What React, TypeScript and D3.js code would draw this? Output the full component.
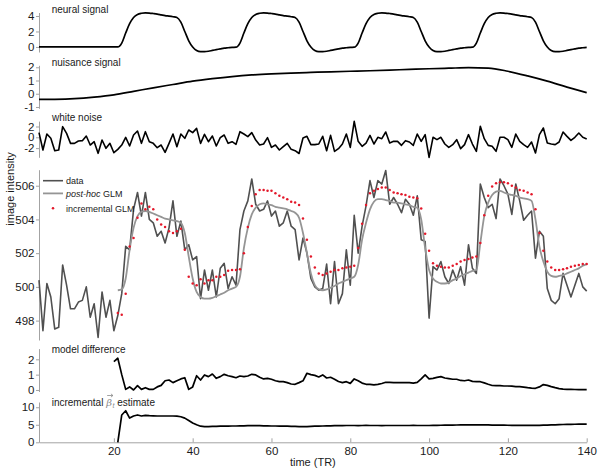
import React, { useEffect, useRef } from 'react';
import * as d3 from 'd3';

const FONT = '"Liberation Sans", Arial, sans-serif';
const AXIS_GREY = '#a3a3a3';

// time points (TR)
const trAll = d3.range(1, 141);
const trModel = d3.range(21, 141);
const trDiff = d3.range(20, 141);
const nuisanceTR = [1, 5, 10, 15, 20, 25, 30, 35, 40, 45, 50, 55, 60, 65, 70, 75, 80, 85, 90, 95, 100, 105, 110, 115, 120, 125, 130, 135, 140];

const xTicks = [20, 40, 60, 80, 100, 120, 140];
const neuralTicks = [0, 2, 4];
const nuisanceTicks = [-1, 0, 1, 2];
const noiseTicks = [-2, 0, 2];
const intensityTicks = [498, 500, 502, 504, 506];
const diffTicks = [0, 1, 2];
const betaTicks = [0, 5, 10];

const neural = [
  0, 0, 0, 0, 0, 0, 0, 0, 0, 0, 0, 0, 0, 0, 0, 0, 0, 0, 0, 0,
  0, 0.5, 1.8, 3.0, 3.8, 4.2, 4.35, 4.4, 4.38, 4.32, 4.25, 4.15, 4.05, 3.98, 3.9, 3.8, 3.2, 2.0, 0.8, 0.0, -0.45, -0.6, -0.6, -0.55, -0.45, -0.35, -0.25, -0.15, -0.1, -0.05,
  -0.03, 0.5, 1.8, 3.0, 3.8, 4.2, 4.35, 4.4, 4.38, 4.32, 4.25, 4.15, 4.05, 3.98, 3.9, 3.8, 3.2, 2.0, 0.8, 0.0, -0.45, -0.6, -0.6, -0.55, -0.45, -0.35, -0.25, -0.15, -0.1, -0.05,
  -0.03, 0.5, 1.8, 3.0, 3.8, 4.2, 4.35, 4.4, 4.38, 4.32, 4.25, 4.15, 4.05, 3.98, 3.9, 3.8, 3.2, 2.0, 0.8, 0.0, -0.45, -0.6, -0.6, -0.55, -0.45, -0.35, -0.25, -0.15, -0.1, -0.05,
  -0.03, 0.5, 1.8, 3.0, 3.8, 4.2, 4.35, 4.4, 4.38, 4.32, 4.25, 4.15, 4.05, 3.98, 3.9, 3.8, 3.2, 2.0, 0.8, 0.0, -0.45, -0.6, -0.6, -0.55, -0.45, -0.35, -0.25, -0.15, -0.1, -0.05,
];

const nuisance = [-0.43, -0.42, -0.37, -0.25, -0.08, 0.18, 0.45, 0.7, 0.95, 1.14, 1.3, 1.42, 1.5, 1.56, 1.61, 1.66, 1.7, 1.74, 1.79, 1.84, 1.89, 1.93, 1.97, 1.94, 1.7, 1.35, 0.95, 0.5, 0.08];

const whiteNoise = [
  0.86, -2.35, 0.61, -0.19, -2.48, -2.35, 1.97, 0.73, -1.12, -1.12,
  -0.69, -0.62, 0.24, -1.43, -0.81, -2.97, -0.5, -2.04, -1.12, -2.85,
  -2.23, -1.43, -0.01, -1.61, 0.43, 1.17, -1.12, 1.04, -0.81, -1.12,
  -1.92, -1.43, -2.78, -1.12, 0.61, -1.73, 0.61, -0.19, 1.35, 0.86,
  1.66, -1.12, 0.55, -0.81, 0.24, -1.61, -0.07, 0.43, -1.12, -0.81,
  -1.3, 1.04, 0.61, 0.12, 0.86, -0.5, -1.43, -1.24, -0.07, -1.86,
  -1.43, -2.35, -1.73, -1.12, -2.23, -2.48, -3.0,
  -0.13, 0.18, -1.36, -1.36, -1.24, 0.18, -2.48, 0.36, -2.6, -2.1,
  -1.24, 0.61, -1.86, 2.96, -0.75, -1.67, -1.06, 0.36, -1.24, 0,
  -0.25, 0.98, -1.06, -0.75, -0.75, -1.49, -0.62, -0.87, -1.49, 0.61,
  -0.75, 0.49, -3.71, 0, -0.44, 0, -1.24, -1.86, -1.36, -0.44,
  -2.1, -1.36, 0.49, -1.24, -2.6, 2.03, -0.25, -1.49, -1.67, -2.6,
  0, 0, -0.44, -1.86, 0.61, -0.75, -1.36, -1.86, -0.87, -2.91,
  0.49, 1.72, -1.06, -1.24, -1.36, -0.87, 0.98, 0.18, -0.56, 0,
  0.8, 0, -0.31,
];

const intensity = [
  500.4, 497.4, 500.2, 499.4, 497.5, 497.6, 501.3, 500.1, 498.7, 498.7,
  499.1, 499.2, 500.0, 498.2, 499.0, 497.0, 499.7, 498.2, 499.2, 497.4,
  498.3, 499.6, 502.4, 502.2, 504.6, 505.6, 504.2, 505.6, 504.0, 503.8,
  503.0, 503.3, 502.6, 503.5, 505.1, 503.0, 503.9, 502.2, 502.5, 501.6,
  501.8, 499.3, 501.0, 499.8, 501.0, 499.4, 501.1, 501.4, 499.9, 500.6,
  500.1, 503.4, 504.5, 505.1, 506.4, 504.9, 504.5, 504.6, 505.1, 504.2,
  504.5, 503.6, 503.8, 504.5, 503.6, 503.4, 501.6, 502.9, 502.0, 500.5,
  500.0, 499.8, 499.9, 501.35, 499.0, 501.5, 499.0, 499.6, 502.2, 500.1,
  504.25, 502.0, 503.6, 504.8, 506.3, 505.3, 506.3, 506.1, 506.9, 504.9,
  505.3, 504.9, 504.4, 505.2, 504.9, 504.25, 505.4, 502.8, 502.7, 498.15,
  501.2, 501.0, 501.5, 500.6, 500.2, 501.0, 500.4, 501.2, 500.1, 502.5,
  501.1, 500.8, 506.1, 505.3, 504.7, 504.9, 504.05, 506.4, 506.0, 505.5,
  504.3, 506.1, 505.1, 503.95, 504.25, 504.5, 501.7, 503.3, 503.0, 499.9,
  499.2, 499.0, 499.3, 500.8, 500.1, 499.4, 500.1, 500.8, 500.0, 499.75,
];

const postHoc = [
  499.8, 499.85, 500.5, 502.2, 503.5, 504.2, 504.45, 504.5, 504.45, 504.35,
  504.25, 504.15, 504.05, 504.0, 503.95, 503.9, 503.8, 503.2, 501.8, 500.5,
  499.7, 499.4, 499.3, 499.3, 499.35, 499.45, 499.55, 499.65, 499.8, 499.9,
  500.0, 500.6, 502.3, 503.5, 504.3, 504.7, 504.9, 504.95, 504.9, 504.85,
  504.75, 504.7, 504.65, 504.6, 504.5, 504.4, 504.1,
  503.2, 502.0, 500.8, 500.1, 499.85, 499.8, 499.85, 499.95, 500.05, 500.2,
  500.3, 500.4, 500.5, 500.6, 501.3, 502.8, 503.8, 504.6, 505.05, 505.2,
  505.2, 505.15, 505.1, 505.0, 505.0, 504.95, 504.9, 504.85, 504.75, 504.7,
  504.0, 502.3, 501.0, 500.5, 500.3, 500.2, 500.2, 500.25, 500.4, 500.5,
  500.65, 500.75, 500.85, 500.95, 501.0, 502.6, 504.2, 505.0, 505.45, 505.65,
  505.7, 505.6, 505.5, 505.45, 505.4, 505.3, 505.25, 505.2, 505.1, 504.0,
  502.4, 501.5, 500.9, 500.65, 500.6, 500.65, 500.7, 500.8, 500.9, 501.0,
  501.1, 501.25, 501.35,
];

const incremental = [
  498.45, 498.35, 499.6, 502.4, 502.9, 504.1, 504.95, 504.6, 504.75, 504.6,
  504.0, 503.7, 503.55, 503.3, 503.2, 503.3, 503.45, 502.2, 500.6, 500.2,
  500.1, 500.45, 500.2, 500.4, 500.4, 500.6, 500.6, 500.7, 500.95, 501.0,
  501.0, 501.05, 502.0, 503.55, 504.8, 505.5, 505.75, 505.75, 505.7, 505.7,
  505.55, 505.4, 505.3, 505.2, 505.05, 505.0, 504.85,
  504.05, 502.8, 501.8, 501.15, 500.8, 500.7, 500.8, 500.9, 501.0, 501.0,
  501.1, 501.15, 501.2, 501.25, 502.3, 503.75, 504.85, 505.55, 505.7, 505.8,
  505.9, 505.9, 505.75, 505.6, 505.55, 505.5, 505.45, 505.35, 505.3, 505.25,
  504.65, 503.15, 502.15, 501.4, 501.25, 501.2, 501.15, 501.15, 501.25, 501.35,
  501.5, 501.6, 501.65, 501.75, 501.8, 502.6, 504.25, 505.4, 505.95, 506.15,
  506.2, 506.2, 506.15, 506.0, 505.9, 505.75, 505.7, 505.6, 505.5, 504.6,
  503.2, 502.15, 501.5, 501.15, 501.0, 501.0, 501.05, 501.1, 501.2, 501.25,
  501.3, 501.35, 501.35,
];

const modelDiff = [
  1.85, 2.07, 1.0, 0.04, 0.2, 0.0, 0.28, 0.04, 0.15, 0.04,
  0.04, 0.2, 0.3, 0.6, 0.65, 0.48, 0.6, 0.72, 0.8, 0.04,
  0.2, 0.93, 0.65, 0.98, 0.87, 1.04, 0.76, 0.87, 1.02, 0.93,
  0.87, 0.8, 0.91, 0.87, 0.91, 1.02, 0.98, 0.83, 0.72, 0.76,
  0.7, 0.6, 0.54, 0.54, 0.48, 0.39, 0.37, 0.48,
  0.6, 1.09, 1.0, 0.95, 0.85, 0.98, 0.78, 0.83, 0.7, 0.55,
  0.48, 0.54, 0.43, 0.72, 0.6, 0.45, 0.37, 0.37, 0.33, 0.36,
  0.42, 0.5, 0.49, 0.48, 0.48, 0.48, 0.48, 0.48, 0.45, 0.5,
  0.72, 0.98, 0.72, 0.76, 0.82, 0.87, 0.78, 0.74, 0.7, 0.7,
  0.62, 0.6, 0.65, 0.56, 0.54, 0.54, 0.46, 0.37, 0.29, 0.28,
  0.28, 0.26, 0.26, 0.25, 0.22, 0.22, 0.19, 0.15, 0.12, 0.11,
  0.2, 0.35, 0.3, 0.22, 0.15, 0.09, 0.05, 0.04, 0.04, 0.03,
  0.02, 0.02, 0.02,
];

const betaEstimate = [
  0, 7.8, 9.0, 6.9, 7.5, 7.8, 7.5, 7.7, 7.6, 7.55,
  7.5, 7.5, 7.5, 7.5, 7.5, 7.45, 7.3, 6.9, 6.2, 5.5,
  5.0, 4.6, 4.5, 4.5, 4.55, 4.55, 4.6, 4.6, 4.6, 4.65,
  4.65, 4.7, 4.7, 4.75, 4.75, 4.75, 4.75, 4.7, 4.7, 4.65,
  4.65, 4.6, 4.6, 4.6, 4.55, 4.55, 4.5, 4.5, 4.5, 4.55,
  4.6, 4.6, 4.65, 4.7, 4.7, 4.75, 4.75, 4.75, 4.8, 4.8,
  4.8, 4.78, 4.8, 4.82, 4.8, 4.8, 4.8, 4.78, 4.8, 4.8,
  4.8, 4.8, 4.8, 4.8, 4.8, 4.82, 4.8, 4.8, 4.8, 4.8,
  4.82, 4.84, 4.86, 4.88, 4.9, 4.92, 4.94, 4.95, 4.95, 4.95,
  4.95, 4.95, 4.95, 4.95, 4.95, 4.92, 4.9, 4.9, 4.88, 4.86,
  4.85, 4.85, 4.85, 4.85, 4.85, 4.85, 4.85, 4.85, 4.88, 4.92,
  4.96, 5.0, 5.04, 5.08, 5.1, 5.13, 5.15, 5.17, 5.19, 5.2,
];

type Pt = [number, number];
const zip = (xs: number[], ys: number[]): Pt[] => xs.map((t, i) => [t, ys[i]] as Pt);

const App = () => {
  const svgRef = useRef<SVGSVGElement>(null);

  useEffect(() => {
    const svg = d3.select(svgRef.current);
    svg.selectAll('*').remove();

    const x = d3.scaleLinear().domain([1, 140]).range([39, 586.7]);

    const yNeural = d3.scaleLinear().domain([-0.65, 4.45]).range([52, 12.5]);
    const yNuis = d3.scaleLinear().domain([-1.1, 2.15]).range([108.3, 65.3]);
    const yNoise = d3.scaleLinear().domain([-3.7, 3]).range([157.3, 121.1]);
    const yMain = d3.scaleLinear().domain([496.85, 506.95]).range([340, 169.7]);
    const yDiff = d3.scaleLinear().domain([-0.1, 2.7]).range([391.5, 348.6]);
    const yBeta = d3.scaleLinear().domain([0, 11.5]).range([442.3, 402]);

    const leftAxis = (scale: d3.ScaleLinear<number, number>, ticks: number[]) => {
      const g = svg.append('g')
        .attr('transform', `translate(${x.range()[0]},0)`)
        .call(d3.axisLeft(scale).tickValues(ticks).tickSize(3).tickSizeOuter(0).tickPadding(1.5).tickFormat(d => String(d)));
      g.attr('font-family', FONT).attr('font-size', 11.5);
      g.select('.domain').attr('stroke', AXIS_GREY);
      g.selectAll('.tick line').attr('stroke', AXIS_GREY);
      g.selectAll('.tick text').attr('fill', '#1a1a1a');
    };

    leftAxis(yNeural, neuralTicks);
    leftAxis(yNuis, nuisanceTicks);
    leftAxis(yNoise, noiseTicks);
    leftAxis(yMain, intensityTicks);
    leftAxis(yDiff, diffTicks);
    leftAxis(yBeta, betaTicks);

    // x axis at the bottom, ticks pointing inwards
    const xg = svg.append('g')
      .attr('transform', `translate(0,${yBeta(0)})`)
      .call(d3.axisBottom(x).tickValues(xTicks).tickSizeInner(-4).tickSizeOuter(0).tickPadding(5).tickFormat(d => String(d)));
    xg.attr('font-family', FONT).attr('font-size', 11.5);
    xg.select('.domain').attr('stroke', AXIS_GREY);
    xg.selectAll('.tick line').attr('stroke', AXIS_GREY);
    xg.selectAll('.tick text').attr('fill', '#1a1a1a');

    const drawLine = (pts: Pt[], y: d3.ScaleLinear<number, number>, color: string, width: number, curve: d3.CurveFactory) => {
      const line = d3.line<Pt>().x(d => x(d[0])).y(d => y(d[1])).curve(curve);
      svg.append('path')
        .datum(pts)
        .attr('fill', 'none')
        .attr('stroke', color)
        .attr('stroke-width', width)
        .attr('stroke-linejoin', 'round')
        .attr('d', line);
    };

    drawLine(zip(trAll, neural), yNeural, '#000', 1.7, d3.curveMonotoneX);
    drawLine(zip(nuisanceTR, nuisance), yNuis, '#000', 1.7, d3.curveMonotoneX);
    drawLine(zip(trAll, whiteNoise), yNoise, '#000', 1.6, d3.curveLinear);

    drawLine(zip(trAll, intensity), yMain, '#505050', 1.6, d3.curveLinear);
    drawLine(zip(trModel, postHoc), yMain, '#959595', 1.8, d3.curveMonotoneX);
    svg.append('g')
      .selectAll('circle')
      .data(zip(trModel, incremental))
      .enter().append('circle')
      .attr('cx', d => x(d[0]))
      .attr('cy', d => yMain(d[1]))
      .attr('r', 1.25)
      .attr('fill', '#e3182a');

    drawLine(zip(trDiff, modelDiff), yDiff, '#000', 1.7, d3.curveLinear);
    drawLine(zip(trModel, betaEstimate), yBeta, '#000', 1.7, d3.curveLinear);

    // panel titles
    const label = (txt: string, px: number, py: number) =>
      svg.append('text')
        .attr('x', px).attr('y', py)
        .attr('font-family', FONT).attr('font-size', 10)
        .attr('fill', '#1a1a1a')
        .text(txt);

    label('neural signal', 51.7, 13);
    label('nuisance signal', 51.7, 65.5);
    label('white noise', 52, 121);
    label('model difference', 51.7, 353.3);

    const betaLabel = svg.append('text')
      .attr('x', 51.7).attr('y', 405.5)
      .attr('font-family', FONT).attr('font-size', 10)
      .attr('fill', '#1a1a1a');
    betaLabel.append('tspan').text('incremental ');
    betaLabel.append('tspan').attr('font-style', 'italic').attr('fill', '#8a8a8a').attr('font-family', 'DejaVu Serif, serif').text('β');
    betaLabel.append('tspan').attr('font-style', 'italic').attr('fill', '#8a8a8a').attr('font-size', 7).attr('dy', 2.5).attr('dx', 0.5).text('t');
    betaLabel.append('tspan').attr('dy', -2.5).text(' estimate');
    const bNode = betaLabel.node() as SVGTextElement;
    if (bNode && bNode.getStartPositionOfChar) {
      const s = bNode.getStartPositionOfChar(12);
      const e = bNode.getEndPositionOfChar(12);
      const ay = s.y - 10;
      svg.append('path')
        .attr('d', `M${s.x + 1},${ay}L${e.x + 1},${ay}M${e.x - 1},${ay - 1.6}L${e.x + 1},${ay}L${e.x - 1},${ay + 1.6}`)
        .attr('fill', 'none')
        .attr('stroke', '#8a8a8a')
        .attr('stroke-width', 0.8);
    }

    // y label of main panel
    svg.append('text')
      .attr('transform', 'translate(13.5,189) rotate(-90)')
      .attr('text-anchor', 'middle')
      .attr('font-family', FONT).attr('font-size', 11)
      .attr('fill', '#1a1a1a')
      .text('image intensity');

    // x label
    svg.append('text')
      .attr('x', (x.range()[0] + x.range()[1]) / 2)
      .attr('y', 466)
      .attr('text-anchor', 'middle')
      .attr('font-family', FONT).attr('font-size', 11)
      .attr('fill', '#1a1a1a')
      .text('time (TR)');

    // legend
    const legend = svg.append('g').attr('font-family', FONT).attr('font-size', 9).attr('fill', '#1a1a1a');
    legend.append('line').attr('x1', 43).attr('x2', 63).attr('y1', 180.7).attr('y2', 180.7)
      .attr('stroke', '#505050').attr('stroke-width', 1.6);
    legend.append('text').attr('x', 66).attr('y', 184).text('data');
    legend.append('line').attr('x1', 43).attr('x2', 63).attr('y1', 193.4).attr('y2', 193.4)
      .attr('stroke', '#959595').attr('stroke-width', 1.8);
    const ph = legend.append('text').attr('x', 66).attr('y', 197);
    ph.append('tspan').attr('font-style', 'italic').text('post-hoc');
    ph.append('tspan').text(' GLM');
    legend.append('circle').attr('cx', 53).attr('cy', 208.3).attr('r', 1.25).attr('fill', '#e3182a');
    legend.append('text').attr('x', 66).attr('y', 211.5).text('incremental GLM');
  }, []);

  return (
    <svg
      ref={svgRef}
      width={600}
      height={470}
      style={{ position: 'absolute', left: 0, top: 0, background: '#fff' }}
    />
  );
};

export default App;
